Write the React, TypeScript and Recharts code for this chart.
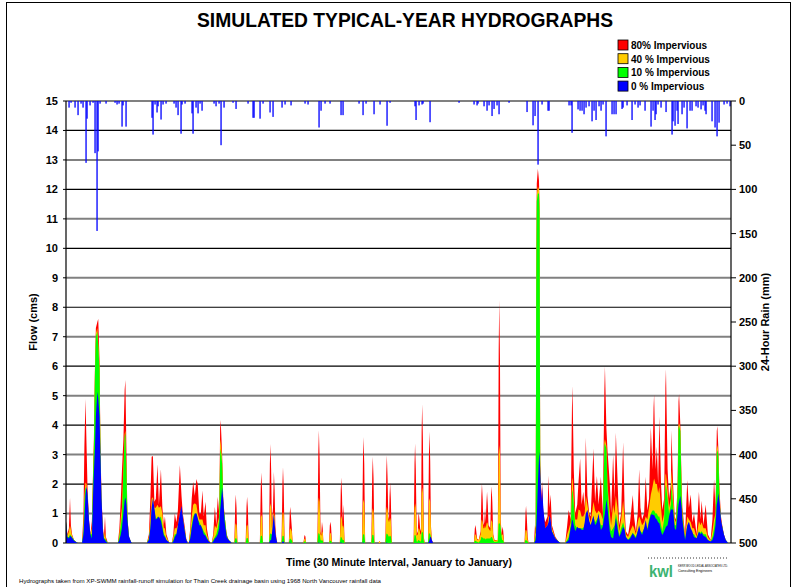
import React from "react";
import { ComposedChart, Area, Bar, XAxis, YAxis, CartesianGrid } from "recharts";

const FONT = "'Liberation Sans', Arial, Helvetica, sans-serif";

// Flow rows: [day of year, 80% impervious, 40 %, 10 %, 0 %] (cms)
const winterFlow: number[][] = [
  [0, 0.75, 0.72, 0.72, 0.72], [0.8, 0.3, 0.25, 0.2, 0.2], [1.6, 0.5, 0.4, 0.2, 0.15],
  [2.2, 1.54, 0.6, 0.3, 0.25], [2.7, 0.6, 0.45, 0.25, 0.22], [3.3, 0.3, 0.25, 0.2, 0.18],
  [4.4, 0.1, 0.1, 0.1, 0.08], [5.5, 0.04, 0.03, 0.03, 0.03], [6.6, 0, 0, 0, 0],
  [8.8, 0, 0, 0, 0], [9.6, 1.0, 0.6, 0.4, 0.3], [10.1, 3.3, 1.6, 1.4, 0.8],
  [10.7, 4.89, 2.05, 1.9, 1.6], [11.2, 3.5, 2.0, 1.8, 1.93], [11.8, 1.9, 1.7, 1.6, 1.7],
  [12.6, 0.8, 0.7, 0.65, 0.8], [13.4, 0.3, 0.3, 0.3, 0.3], [14.2, 0.75, 0.5, 0.3, 0.15],
  [14.8, 2.3, 2.2, 2.1, 1.5], [15.3, 3.5, 3.3, 3.2, 2.4], [15.9, 6.0, 5.9, 5.8, 3.2],
  [16.4, 7.3, 7.1, 7.0, 4.3], [17.2, 7.5, 7.3, 7.17, 5.13], [17.7, 7.6, 6.8, 6.7, 4.9],
  [18.4, 6.2, 6.0, 5.9, 4.3], [18.9, 3.4, 3.2, 3.1, 3.0], [19.5, 1.5, 1.3, 1.25, 1.5],
  [20.3, 0.5, 0.4, 0.35, 0.4], [20.8, 0.2, 0.15, 0.15, 0.15], [21.4, 0.9, 0.4, 0.15, 0.1],
  [21.9, 0.2, 0.1, 0.1, 0.05], [23.0, 0, 0, 0, 0],
  [28.5, 0, 0, 0, 0], [29.3, 0.5, 0.3, 0.2, 0.1], [30.1, 1.5, 0.9, 0.6, 0.3],
  [30.7, 2.44, 1.2, 0.9, 0.5], [31.5, 3.5, 2.5, 2.4, 1.0], [32.2, 5.2, 3.7, 3.6, 1.45],
  [32.6, 5.53, 3.81, 3.72, 1.54], [33.2, 3.0, 2.4, 2.3, 1.3], [33.7, 0.95, 0.9, 0.9, 0.8],
  [34.5, 0.2, 0.2, 0.2, 0.25], [35.6, 0.05, 0.05, 0.05, 0.05], [36.2, 0, 0, 0, 0],
];

const springFlow: number[][] = [
  [44.4, 0, 0, 0, 0], [45.5, 0.3, 0.2, 0.15, 0.1], [46.3, 1.5, 0.8, 0.5, 0.5],
  [47.0, 2.93, 1.5, 1.1, 1.2], [47.7, 2.95, 1.55, 1.3, 1.52], [48.5, 1.4, 1.2, 1.1, 1.2],
  [49.3, 1.5, 1.2, 0.8, 0.8], [50.2, 2.67, 1.3, 0.9, 0.85], [51.0, 1.3, 1.2, 0.8, 0.9],
  [52.1, 2.5, 1.25, 0.9, 0.75], [52.9, 1.2, 1.0, 0.6, 0.5], [53.7, 0.6, 0.5, 0.3, 0.25],
  [54.3, 0.9, 0.5, 0.25, 0.2], [55.1, 0.3, 0.2, 0.1, 0.1], [56.4, 0.05, 0.04, 0.03, 0.03],
  [57.0, 0, 0, 0, 0],
  [58.1, 0, 0, 0, 0], [58.9, 0.3, 0.2, 0.1, 0.05], [59.7, 1.0, 0.5, 0.3, 0.2],
  [60.6, 0.7, 0.5, 0.3, 0.3], [61.4, 1.1, 0.6, 0.4, 0.6], [62.5, 2.65, 1.0, 0.8, 1.0],
  [63.4, 1.6, 1.2, 1.1, 1.26], [64.1, 1.0, 0.9, 0.8, 0.9], [65.2, 0.55, 0.45, 0.4, 0.4],
  [66.0, 0.15, 0.1, 0.1, 0.1], [66.9, 0, 0, 0, 0],
  [67.4, 0, 0, 0, 0], [68.2, 0.5, 0.4, 0.2, 0.15], [69.0, 1.5, 0.9, 0.6, 0.5],
  [69.8, 2.08, 1.3, 0.9, 0.8], [70.7, 1.6, 1.35, 1.0, 1.0], [71.6, 2.17, 1.3, 1.0, 1.0],
  [72.3, 2.0, 1.0, 0.8, 0.85], [73.2, 1.0, 0.8, 0.7, 0.6], [74.0, 1.0, 0.8, 0.6, 0.6],
  [74.9, 1.78, 0.8, 0.5, 0.45], [75.6, 0.9, 0.6, 0.4, 0.3], [76.6, 1.4, 0.6, 0.3, 0.25],
  [77.3, 0.5, 0.3, 0.2, 0.15], [78.4, 0.1, 0.08, 0.05, 0.05], [79.5, 0, 0, 0, 0],
  [80.0, 0, 0, 0, 0], [80.8, 0.3, 0.2, 0.1, 0.05], [81.7, 1.23, 0.6, 0.2, 0.15],
  [82.5, 0.6, 0.5, 0.3, 0.2], [83.3, 1.57, 0.7, 0.5, 0.3], [84.1, 1.0, 0.9, 0.8, 0.5],
  [84.6, 3.9, 3.3, 3.0, 1.1], [84.9, 4.17, 3.52, 3.2, 1.3], [85.7, 3.0, 2.8, 2.7, 1.88],
  [86.3, 1.5, 1.4, 1.3, 1.5], [87.1, 0.9, 0.9, 0.9, 0.7], [88.2, 0.3, 0.25, 0.25, 0.2],
  [89.3, 0.1, 0.1, 0.1, 0.1], [91.0, 0, 0, 0, 0],
];

const summerFlow: number[][] = [
  [92.4, 0, 0, 0, 0], [92.9, 1.3, 0.6, 0.15, 0.02], [93.2, 1.65, 0.67, 0.16, 0.02], [93.6, 1.2, 0.6, 0.15, 0.01], [94.1, 0, 0, 0, 0],
  [98.6, 0, 0, 0, 0], [99.1, 1.25, 0.57, 0.16, 0], [99.4, 1.57, 0.63, 0.17, 0], [99.8, 1.2, 0.57, 0.16, 0], [100.3, 0, 0, 0, 0],
  [106.4, 0, 0, 0, 0], [106.9, 1.9, 0.87, 0.24, 0], [107.2, 2.39, 0.97, 0.25, 0], [107.6, 1.8, 0.87, 0.24, 0], [108.1, 0, 0, 0, 0],
  [111.4, 0, 0, 0, 0], [111.9, 2.7, 1.2, 0.3, 0.05], [112.2, 3.36, 1.35, 0.33, 0.1], [112.6, 2.5, 1.2, 0.3, 0.1],
  [113.0, 0.6, 0.5, 0.3, 0.3], [113.6, 1.2, 0.9, 0.3, 0.7], [113.9, 1.9, 1.0, 0.3, 0.9], [114.1, 2.42, 1.0, 0.3, 0.97],
  [114.5, 1.8, 0.9, 0.25, 0.7], [114.9, 0.6, 0.4, 0.15, 0.4], [115.4, 0.2, 0.15, 0.1, 0.15], [116.0, 0, 0, 0, 0],
  [118.3, 0, 0, 0, 0], [118.8, 2.0, 0.95, 0.24, 0.04], [119.1, 2.57, 1.06, 0.25, 0.05], [119.5, 1.9, 0.95, 0.24, 0.04], [120.0, 0, 0, 0, 0],
  [122.3, 0, 0, 0, 0], [122.8, 1.0, 0.45, 0.14, 0.02], [123.1, 1.23, 0.5, 0.15, 0.02], [123.5, 0.9, 0.45, 0.12, 0], [123.9, 0.55, 0.4, 0.1, 0], [124.4, 0, 0, 0, 0],
  [130.3, 0, 0, 0, 0], [130.8, 0.22, 0.14, 0.05, 0], [131.0, 0.27, 0.15, 0.05, 0], [131.4, 0.22, 0.14, 0.05, 0], [131.8, 0, 0, 0, 0],
  [138.0, 0, 0, 0, 0], [138.5, 3.1, 1.4, 0.32, 0.02], [138.8, 3.83, 1.54, 0.33, 0.02], [139.2, 2.9, 1.4, 0.3, 0],
  [139.7, 0.4, 0.3, 0.1, 0], [140.1, 0.3, 0.25, 0.08, 0], [140.5, 0.72, 0.4, 0.1, 0], [140.9, 0.5, 0.35, 0.08, 0], [141.3, 0, 0, 0, 0],
  [144.4, 0, 0, 0, 0], [144.8, 0.6, 0.32, 0.08, 0], [145.1, 0.72, 0.35, 0.08, 0], [145.5, 0.55, 0.3, 0.07, 0], [146.0, 0, 0, 0, 0],
  [150.3, 0, 0, 0, 0], [150.8, 1.8, 0.85, 0.2, 0.02], [151.1, 2.22, 0.92, 0.2, 0.02], [151.5, 1.6, 0.8, 0.15, 0],
  [151.8, 0.7, 0.55, 0.1, 0], [152.1, 1.3, 0.6, 0.1, 0], [152.5, 0.9, 0.5, 0.1, 0], [152.9, 0, 0, 0, 0],
  [162.5, 0, 0, 0, 0], [163.0, 2.9, 1.35, 0.29, 0.02], [163.3, 3.6, 1.48, 0.3, 0.02], [163.7, 2.7, 1.35, 0.28, 0], [164.2, 0, 0, 0, 0],
  [167.6, 0, 0, 0, 0], [168.1, 2.35, 1.06, 0.27, 0], [168.4, 2.93, 1.18, 0.28, 0], [168.8, 2.2, 1.06, 0.26, 0], [169.3, 0, 0, 0, 0],
  [171.5, 0, 0, 0, 0], [172.1, 0.07, 0.07, 0, 0], [172.7, 0, 0, 0, 0],
  [175.3, 0, 0, 0, 0], [175.8, 2.4, 1.1, 0.3, 0.02], [176.1, 2.98, 1.23, 0.32, 0.02], [176.5, 2.2, 1.1, 0.3, 0],
  [176.9, 0.9, 0.8, 0.25, 0], [177.3, 0.8, 0.7, 0.2, 0], [177.6, 1.6, 0.8, 0.24, 0], [177.9, 2.05, 0.85, 0.25, 0],
  [178.3, 1.5, 0.75, 0.22, 0], [178.8, 0, 0, 0, 0],
  [190.8, 0, 0, 0, 0], [191.3, 2.7, 1.2, 0.26, 0], [191.6, 3.38, 1.35, 0.27, 0], [192.0, 2.5, 1.2, 0.25, 0],
  [192.5, 0.3, 0.25, 0.05, 0], [193.1, 0.4, 0.3, 0.05, 0], [193.4, 0.9, 0.48, 0.1, 0], [193.6, 1.03, 0.5, 0.1, 0],
  [194.0, 0.8, 0.45, 0.08, 0], [194.5, 0.4, 0.3, 0.05, 0], [194.9, 0.5, 0.3, 0.06, 0], [195.2, 3.8, 1.7, 0.36, 0],
  [195.5, 4.71, 1.89, 0.38, 0], [195.9, 3.5, 1.7, 0.35, 0], [196.4, 0.2, 0.15, 0.05, 0], [196.9, 0, 0, 0, 0],
  [198.7, 0, 0, 0, 0], [199.2, 3.0, 1.4, 0.32, 0.05], [199.5, 3.78, 1.52, 0.33, 0.1], [199.9, 2.8, 1.4, 0.3, 0.2],
  [200.3, 0.6, 0.5, 0.2, 0.2], [200.8, 0.1, 0.08, 0.05, 0.1], [201.5, 0, 0, 0, 0],
  [223.9, 0, 0, 0, 0], [224.4, 0.5, 0.28, 0.08, 0], [224.7, 0.61, 0.3, 0.08, 0], [225.1, 0.45, 0.25, 0.06, 0],
  [225.6, 0.15, 0.12, 0.04, 0], [226.5, 0.1, 0.1, 0.02, 0], [227.6, 0.4, 0.3, 0.1, 0], [228.0, 1.6, 0.75, 0.2, 0],
  [228.3, 2.02, 0.8, 0.2, 0], [228.7, 1.5, 0.7, 0.18, 0], [229.1, 0.6, 0.5, 0.15, 0], [229.6, 0.7, 0.5, 0.15, 0],
  [230.0, 1.18, 0.6, 0.15, 0], [230.4, 0.7, 0.5, 0.12, 0], [230.8, 1.4, 0.65, 0.15, 0], [231.1, 1.74, 0.7, 0.15, 0],
  [231.5, 1.3, 0.65, 0.15, 0], [231.9, 0.6, 0.5, 0.15, 0], [232.9, 0.5, 0.4, 0.15, 0], [233.3, 1.6, 0.72, 0.2, 0],
  [233.6, 1.93, 0.78, 0.2, 0], [234.0, 1.4, 0.7, 0.18, 0], [234.5, 0.3, 0.25, 0.08, 0], [235.2, 0.1, 0.08, 0.03, 0],
  [237.0, 0.1, 0.1, 0.05, 0], [237.5, 6.6, 3.0, 0.65, 0], [237.8, 8.25, 3.33, 0.67, 0], [238.2, 6.2, 3.0, 0.65, 0],
  [238.6, 0.8, 0.6, 0.5, 0], [239.1, 0.3, 0.25, 0.2, 0], [239.4, 0.45, 0.28, 0.1, 0], [239.7, 0.55, 0.3, 0.1, 0],
  [240.0, 0.4, 0.25, 0.08, 0], [240.5, 0, 0, 0, 0],
  [251.7, 0, 0, 0, 0], [252.2, 1.0, 0.42, 0.1, 0], [252.5, 1.26, 0.45, 0.1, 0], [252.9, 0.9, 0.4, 0.08, 0],
  [253.4, 0.2, 0.1, 0.05, 0], [253.9, 0, 0, 0, 0],
  [256.9, 0, 0, 0, 0], [257.4, 0.6, 0.3, 0.1, 0.05], [257.8, 0.5, 0.35, 0.25, 0.1], [258.1, 9.0, 8.5, 8.3, 0.5],
  [258.4, 12.2, 11.8, 11.6, 0.9], [259.0, 12.7, 12.1, 11.87, 2.0], [259.6, 12.3, 12.0, 11.85, 2.9],
  [259.9, 11.5, 11.3, 11.2, 3.1], [260.3, 2.8, 2.5, 2.3, 2.4], [260.9, 1.5, 1.2, 1.0, 1.4], [261.3, 2.1, 1.3, 1.0, 1.9],
  [262.0, 1.0, 0.8, 0.6, 1.2], [263.0, 0.7, 0.5, 0.4, 0.5], [264.3, 0.9, 0.6, 0.4, 0.6],
  [264.8, 2.29, 0.9, 0.6, 0.7], [265.4, 1.2, 0.9, 0.7, 0.95], [266.0, 1.65, 0.8, 0.6, 0.8],
  [266.7, 0.6, 0.5, 0.4, 0.4], [268.6, 0.2, 0.15, 0.15, 0.15], [270.3, 0.05, 0.05, 0.05, 0.05],
  [271.4, 0, 0, 0, 0],
];

const autumnFlow: number[][] = [
  [274.0, 0, 0, 0, 0], [275.1, 0.6, 0.3, 0.1, 0.05], [275.9, 1.12, 0.45, 0.2, 0.1],
  [277.0, 0.8, 0.7, 0.6, 0.5], [277.7, 4.6, 2.1, 1.7, 0.75], [278.0, 5.33, 2.22, 1.8, 0.8], [278.7, 2.5, 1.5, 1.3, 0.6],
  [279.5, 1.0, 0.8, 0.6, 0.4], [280.6, 1.3, 0.8, 0.5, 0.55], [281.3, 2.08, 1.14, 0.5, 0.5],
  [282.2, 2.87, 1.1, 0.5, 0.5], [283.0, 1.3, 0.9, 0.5, 0.45], [283.9, 1.74, 0.9, 0.5, 0.44],
  [284.7, 1.2, 1.0, 0.6, 0.7], [285.3, 3.57, 1.6, 0.9, 1.0], [286.2, 1.6, 1.3, 1.0, 1.12],
  [287.2, 1.0, 0.9, 0.7, 0.75], [288.0, 0.9, 0.7, 0.6, 0.6], [289.5, 3.21, 1.4, 0.9, 0.93],
  [290.4, 1.4, 1.1, 0.7, 0.6], [291.4, 2.27, 1.0, 0.8, 0.7], [292.3, 1.3, 1.1, 0.9, 1.0],
  [293.6, 2.25, 1.0, 0.6, 0.44], [294.6, 1.0, 0.8, 0.6, 0.55], [295.5, 5.2, 3.4, 3.3, 0.9], [295.8, 6.0, 3.52, 3.38, 1.0],
  [296.6, 3.9, 3.3, 3.2, 1.48], [297.2, 3.16, 2.0, 1.9, 1.2], [298.5, 2.0, 1.0, 0.6, 0.38],
  [299.2, 1.0, 0.6, 0.4, 0.2], [300.3, 3.0, 1.3, 0.5, 0.15], [301.1, 1.5, 1.0, 0.6, 0.5],
  [301.8, 3.74, 1.6, 1.0, 0.84], [302.7, 2.2, 1.2, 0.7, 0.5], [303.6, 0.6, 0.4, 0.25, 0.2],
  [304.7, 1.0, 0.8, 0.5, 0.35], [305.8, 3.42, 1.43, 0.7, 0.55], [306.6, 1.2, 0.8, 0.5, 0.45],
  [307.3, 0.4, 0.3, 0.2, 0.2], [308.5, 0.27, 0.2, 0.12, 0.1], [309.6, 0.7, 0.4, 0.2, 0.15],
  [311.1, 1.63, 0.6, 0.35, 0.33], [311.8, 0.9, 0.5, 0.3, 0.25], [312.8, 0.4, 0.3, 0.2, 0.16],
  [313.8, 1.0, 0.7, 0.4, 0.4], [314.6, 2.5, 0.9, 0.5, 0.6], [315.3, 1.2, 0.8, 0.4, 0.4],
  [316.2, 0.8, 0.6, 0.35, 0.27], [317.3, 1.0, 0.7, 0.5, 0.5], [318.2, 2.25, 0.9, 0.6, 0.78],
  [319.1, 1.1, 0.8, 0.5, 0.44], [320.0, 1.5, 1.2, 0.8, 0.7], [321.0, 3.93, 1.65, 1.0, 0.97],
  [321.9, 2.5, 1.9, 1.1, 0.97], [322.5, 4.6, 2.1, 1.1, 0.95], [322.8, 5.06, 2.19, 1.1, 0.95], [323.6, 2.5, 2.0, 1.0, 0.84],
  [324.3, 3.27, 2.0, 1.0, 0.8], [325.0, 2.0, 1.7, 0.9, 0.7], [325.7, 4.29, 1.9, 0.9, 0.67],
  [326.6, 2.0, 1.2, 0.6, 0.4], [327.3, 1.12, 0.7, 0.4, 0.27], [328.3, 1.5, 1.0, 0.8, 0.4],
  [329.0, 5.3, 2.3, 1.9, 0.5], [329.3, 5.9, 2.36, 1.97, 0.55], [330.2, 2.5, 1.8, 1.5, 0.6], [331.0, 1.5, 1.2, 1.0, 0.9],
  [332.0, 2.0, 1.5, 1.3, 1.14], [332.3, 3.83, 2.48, 1.97, 1.14], [333.2, 2.0, 1.6, 1.3, 1.14],
  [334.1, 0.9, 0.8, 0.6, 0.5], [334.8, 0.8, 0.7, 0.6, 0.44], [335.7, 2.0, 1.8, 1.7, 1.0],
  [336.2, 4.8, 4.0, 3.9, 1.3], [336.5, 5.06, 4.06, 3.97, 1.4], [337.2, 4.0, 3.9, 3.8, 1.6], [337.9, 2.0, 1.8, 1.6, 1.2],
  [338.3, 1.2, 1.0, 0.9, 0.78], [339.8, 0.3, 0.25, 0.15, 0.1], [341.0, 2.14, 0.9, 0.6, 0.6],
  [341.9, 1.2, 0.8, 0.5, 0.72], [342.9, 1.65, 0.7, 0.4, 0.5], [343.8, 0.7, 0.5, 0.3, 0.38],
  [344.7, 1.0, 0.5, 0.3, 0.2], [346.1, 0.3, 0.2, 0.15, 0.16], [347.4, 1.74, 0.75, 0.4, 0.38],
  [348.2, 0.8, 0.6, 0.35, 0.3], [348.9, 1.43, 0.7, 0.4, 0.35], [349.9, 0.6, 0.5, 0.3, 0.25],
  [351.1, 1.31, 0.5, 0.3, 0.2], [352.3, 0.3, 0.2, 0.1, 0.1], [353.8, 0.1, 0.08, 0.05, 0.05],
  [354.8, 0.8, 0.4, 0.2, 0.1], [355.7, 2.16, 0.8, 0.5, 0.27], [356.5, 1.2, 1.0, 0.9, 0.6],
  [357.2, 3.8, 3.2, 3.05, 1.3], [357.5, 3.97, 3.33, 3.16, 1.4], [358.0, 3.3, 3.1, 3.0, 1.69], [358.7, 1.8, 1.6, 1.5, 1.4],
  [359.5, 0.9, 0.8, 0.7, 0.8], [360.2, 0.6, 0.55, 0.55, 0.55], [361.1, 0.3, 0.25, 0.25, 0.3],
  [362.1, 0.1, 0.1, 0.1, 0.1], [363.4, 0, 0, 0, 0], [365, 0, 0, 0, 0],
];

// 24-hour rain: [day of year, mm]
const rainFirstHalf: number[][] = [
  [1.6, 7.5], [2.7, 2], [4.9, 7.5], [6.7, 16], [8.2, 3], [9.5, 7.5], [10.8, 70], [11.7, 20],
  [13.2, 5], [14.6, 2], [15.9, 59], [16.8, 147], [17.7, 57], [18.6, 3], [21.8, 3], [26.9, 2],
  [27.9, 4], [29.2, 3], [30.9, 29], [31.4, 5], [32.9, 29], [47.0, 19], [47.8, 38], [48.8, 4],
  [49.7, 13], [50.6, 6], [51.9, 21], [53.2, 4], [54.8, 3], [59.2, 3], [60.3, 7.5], [61.5, 16],
  [62.9, 37], [63.9, 4], [65.2, 3], [68.9, 14], [69.8, 37], [71.2, 7.5], [72.7, 14], [73.4, 3],
  [74.9, 11], [81.1, 3], [82.6, 6], [84.0, 3], [84.9, 50], [86.7, 7.5], [91.7, 2], [93.2, 9],
  [99.9, 3], [102.6, 19], [103.2, 19], [106.7, 20], [108.1, 3], [112.2, 13], [113.6, 18],
  [118.8, 7.5], [120.0, 4], [123.7, 5], [131.0, 3], [132.8, 4], [139.0, 30], [140.1, 11],
  [141.9, 3], [144.7, 3], [151.1, 16], [152.0, 16], [160.6, 3], [162.9, 16], [164.4, 3],
  [168.9, 15], [172.1, 4], [176.1, 28], [177.6, 2],
];
const rainSecondHalf: number[][] = [
  [191.3, 6], [192.0, 21.5], [194.0, 5], [195.5, 4], [196.2, 3], [199.9, 24], [215.9, 2],
  [224.1, 4], [225.4, 5], [226.3, 3], [229.2, 6], [230.9, 11], [232.0, 5], [233.8, 17],
  [235.1, 9], [236.4, 5], [237.8, 15], [243.3, 2], [253.0, 12.5], [256.1, 27.5], [257.6, 17],
  [258.8, 72], [261.2, 4], [264.3, 11], [265.2, 11], [276.2, 5], [277.1, 5], [278.0, 36],
  [281.3, 9.5], [282.0, 11], [283.1, 11], [284.4, 15], [285.3, 7.5], [287.2, 6], [288.6, 23],
  [289.9, 11], [291.1, 21.5], [292.6, 6], [293.9, 11], [294.8, 4], [296.3, 40], [299.9, 15],
  [301.0, 15], [302.1, 15], [305.1, 9], [305.8, 7.5], [308.1, 5], [310.9, 21.5], [312.4, 4],
  [314.2, 7.5], [314.9, 5], [317.8, 11], [321.0, 29], [322.2, 11], [323.3, 21.5], [324.0, 15],
  [325.1, 4], [326.4, 7.5], [329.2, 12.5], [332.5, 38], [333.2, 23], [334.3, 28], [335.5, 11],
  [336.1, 26], [338.3, 15], [339.2, 7.5], [341.0, 31], [342.3, 11], [343.8, 11], [345.6, 6],
  [347.1, 7.5], [348.4, 9.5], [349.6, 5], [350.7, 11], [351.4, 15], [354.7, 23], [356.2, 30],
  [357.5, 40], [358.4, 24.5], [361.1, 4], [362.9, 3], [364.2, 6],
];

const flowTicks = [0, 1, 2, 3, 4, 5, 6, 7, 8, 9, 10, 11, 12, 13, 14, 15];
const rainTicks = [0, 50, 100, 150, 200, 250, 300, 350, 400, 450, 500];

const legendItems = [
  { label: "80% Impervious", color: "#FF0000" },
  { label: "40 % Impervious", color: "#FFCC00" },
  { label: "10 % Impervious", color: "#00FF00" },
  { label: "0 % Impervious", color: "#0000FF" },
];

type Row = { day: number; f80?: number; f40?: number; f10?: number; f0?: number; rain?: number };

const flowRows: Row[] = [...winterFlow, ...springFlow, ...summerFlow, ...autumnFlow].map(
  ([day, a, b, c, d]) => ({ day, f80: a, f40: b, f10: c, f0: d })
);
const rainRows: Row[] = [...rainFirstHalf, ...rainSecondHalf].map(([day, mm]) => ({ day, rain: mm }));
const data: Row[] = [...flowRows, ...rainRows].sort((p, q) => p.day - q.day);

const tickStyle = { fontSize: 11, fontWeight: 700, fill: "#000", fontFamily: FONT };

const gridLine = (p: any) => {
  const v = flowTicks[p.index];
  const odd = v % 2 === 1;
  return (
    <line
      key={`g-${p.index}`}
      x1={p.x1}
      x2={p.x2}
      y1={p.y1}
      y2={p.y2}
      stroke={odd ? "#808080" : "#000"}
      strokeWidth={odd ? 2 : 1.2}
    />
  );
};

// thin, pixel-aligned rain stick hanging from the top axis
const RainStick = (p: any) => {
  if (p.x == null || p.height == null) return <g />;
  const cx = Math.round(p.x + p.width / 2);
  const top = Math.min(p.y, p.y + p.height);
  const h = Math.abs(p.height);
  return <rect x={cx - 0.6} y={top} width={1.3} height={h} fill="#0000FF" />;
};

export default function App() {
  return (
    <div style={{ position: "absolute", left: 0, top: 0, width: 793, height: 587, background: "#fff" }}>
      <ComposedChart
        width={793}
        height={587}
        data={data}
        margin={{ top: 101, right: 22, bottom: 44, left: 26 }}
      >
        <CartesianGrid yAxisId="flow" vertical={false} horizontal={gridLine} />
        <XAxis dataKey="day" type="number" domain={[0, 365]} hide />
        <YAxis
          yAxisId="flow"
          domain={[0, 15]}
          ticks={flowTicks}
          interval={0}
          width={40}
          tick={tickStyle}
          tickSize={3}
          tickMargin={5}
          axisLine={{ stroke: "#000", strokeWidth: 1.2 }}
          tickLine={{ stroke: "#000" }}
        />
        <YAxis
          yAxisId="rain"
          orientation="right"
          domain={[0, 500]}
          reversed
          ticks={rainTicks}
          interval={0}
          width={40}
          tick={tickStyle}
          tickSize={5}
          tickMargin={3}
          axisLine={{ stroke: "#000", strokeWidth: 1.2 }}
          tickLine={{ stroke: "#000" }}
        />
        <Area yAxisId="flow" type="linear" dataKey="f80" fill="#FF0000" fillOpacity={1} stroke="none" connectNulls isAnimationActive={false} dot={false} activeDot={false} />
        <Area yAxisId="flow" type="linear" dataKey="f40" fill="#FFCC00" fillOpacity={1} stroke="none" connectNulls isAnimationActive={false} dot={false} activeDot={false} />
        <Area yAxisId="flow" type="linear" dataKey="f10" fill="#00FF00" fillOpacity={1} stroke="none" connectNulls isAnimationActive={false} dot={false} activeDot={false} />
        <Area yAxisId="flow" type="linear" dataKey="f0" fill="#0000FF" fillOpacity={1} stroke="none" connectNulls isAnimationActive={false} dot={false} activeDot={false} />
        <Bar yAxisId="rain" dataKey="rain" fill="#0000FF" barSize={2} shape={RainStick} isAnimationActive={false} />
      </ComposedChart>
      <svg width={793} height={587} style={{ position: "absolute", left: 0, top: 0, pointerEvents: "none" }}>
        <rect x={6.5} y={2.5} width={784} height={600} fill="none" stroke="#000" strokeWidth={1} />
        <text x={197} y={27} fontFamily={FONT} fontWeight={700} fontSize={21} textLength={416} lengthAdjust="spacingAndGlyphs">
          SIMULATED TYPICAL-YEAR HYDROGRAPHS
        </text>
        {legendItems.map((it, i) => (
          <g key={it.label}>
            <rect x={618} y={40 + i * 13.7} width={10} height={10} fill={it.color} stroke="#000" strokeWidth={0.8} />
            <text x={631} y={49 + i * 13.7} fontFamily={FONT} fontWeight={700} fontSize={10}>
              {it.label}
            </text>
          </g>
        ))}
        <text transform="translate(37,322) rotate(-90)" textAnchor="middle" fontFamily={FONT} fontWeight={700} fontSize={11}>
          Flow (cms)
        </text>
        <text transform="translate(769,322) rotate(-90)" textAnchor="middle" fontFamily={FONT} fontWeight={700} fontSize={11}>
          24-Hour Rain  (mm)
        </text>
        <text x={286} y={566} fontFamily={FONT} fontWeight={700} fontSize={11.5} textLength={226} lengthAdjust="spacingAndGlyphs">
          Time (30 Minute Interval, January to January)
        </text>
        <text x={19} y={583} fontFamily={FONT} fontSize={5.6} textLength={362} lengthAdjust="spacingAndGlyphs">
          Hydrographs taken from XP-SWMM rainfall-runoff simulation for Thain Creek drainage basin using  1968 North Vancouver rainfall data
        </text>
        <line x1={648} y1={558} x2={728} y2={558} stroke="#000" strokeWidth={0.8} strokeDasharray="1 2" />
        <text x={649} y={577} fontFamily={FONT} fontWeight={700} fontSize={16} fill="#3CB371" textLength={24} lengthAdjust="spacingAndGlyphs">
          kwl
        </text>
        <text x={678} y={567} fontFamily={FONT} fontSize={3.6} textLength={50} lengthAdjust="spacingAndGlyphs">
          KERR WOOD LEIDAL ASSOCIATES LTD.
        </text>
        <text x={678} y={572} fontFamily={FONT} fontSize={3.6}>
          Consulting Engineers
        </text>
      </svg>
    </div>
  );
}
